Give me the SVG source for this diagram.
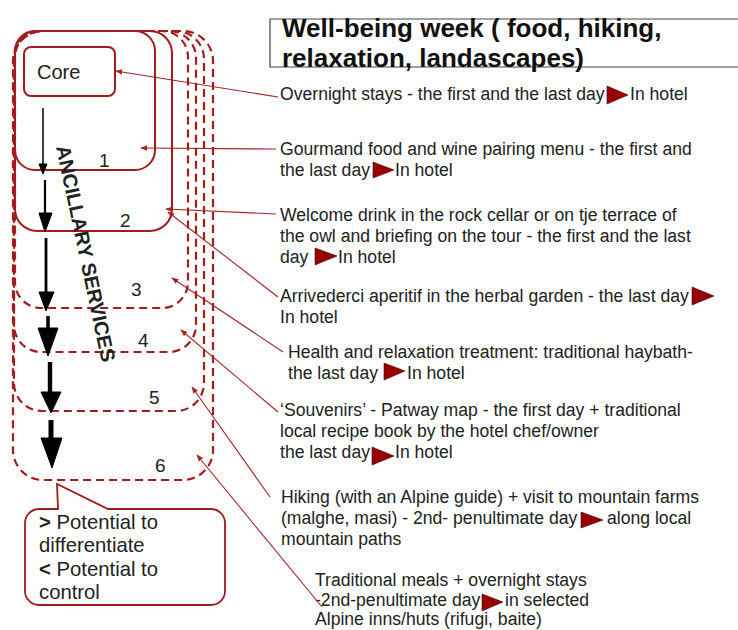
<svg xmlns="http://www.w3.org/2000/svg" width="738" height="630" viewBox="0 0 738 630">
  <defs>
    <style>
      text { font-family: "Liberation Sans", Arial, sans-serif; fill: #222; }
      .solid { fill: none; stroke: #a31c1c; stroke-width: 2; }
      .dash { fill: none; stroke: #a31c1c; stroke-width: 2.2; stroke-dasharray: 8 5; }
      .num { font-size: 19px; }
      .item { font-size: 17.6px; }
      .title { font-size: 26px; font-weight: bold; fill: #111; }
      .tri { fill: #990000; stroke: #3a0a0a; stroke-width: 0.6; }
      .conn { stroke: #a52525; stroke-width: 1.1; fill: none; marker-end: url(#head); }
      .flow { fill: #000; stroke: #000; }
    </style>
    <marker id="head" viewBox="0 0 10 10" refX="9" refY="5" markerWidth="7" markerHeight="7" orient="auto" markerUnits="userSpaceOnUse">
      <path d="M0,1 L10,5 L0,9 Z" fill="#a52525"/>
    </marker>
  </defs>

  <rect width="738" height="630" fill="#fff"/>

  <!-- nested service layers, outermost first -->
  <g id="layer-6">
    <rect class="dash" x="13" y="31" width="200" height="449" rx="30"/>
    <text class="num" x="155" y="472">6</text>
  </g>
  <g id="layer-5">
    <rect class="dash" x="14" y="31" width="190" height="380" rx="28"/>
    <text class="num" x="149" y="404">5</text>
  </g>
  <g id="layer-4">
    <rect class="dash" x="14" y="31" width="182" height="321" rx="27"/>
    <text class="num" x="138" y="347">4</text>
  </g>
  <g id="layer-3">
    <rect class="dash" x="15" y="31" width="173" height="277" rx="26"/>
    <text class="num" x="131" y="296">3</text>
  </g>
  <g id="layer-2">
    <rect class="solid" x="15" y="31" width="157" height="200" rx="22"/>
    <text class="num" x="120" y="227">2</text>
  </g>
  <g id="layer-1">
    <rect class="solid" x="15" y="31" width="140" height="139" rx="20"/>
    <text class="num" x="99" y="167">1</text>
  </g>
  <g id="core">
    <rect class="solid" x="24" y="47" width="91" height="49" rx="7"/>
    <text x="37" y="79" font-size="20">Core</text>
  </g>

  <!-- flow arrows, growing heavier outward -->
  <g id="flow-arrows" class="flow">
    <line x1="43" y1="108" x2="43" y2="166" stroke-width="1.5"/>
    <polygon points="39,164 47,164 43,174"/>
    <line x1="45" y1="180" x2="45" y2="216" stroke-width="2.2"/>
    <polygon points="39,213 52,213 45,232"/>
    <line x1="46" y1="238" x2="46" y2="294" stroke-width="2.8"/>
    <polygon points="39,292 54,292 46,311"/>
    <line x1="48" y1="316" x2="48" y2="331" stroke-width="3.6"/>
    <polygon points="38,328 58,328 48,356"/>
    <line x1="50" y1="362" x2="50" y2="394" stroke-width="4.4"/>
    <polygon points="41,392 61,392 51,413"/>
    <line x1="51" y1="420" x2="51" y2="440" stroke-width="5"/>
    <polygon points="41,438 62,438 52,468"/>
  </g>

  <g id="ancillary-label">
    <text x="56" y="147" font-size="20" font-weight="bold" fill="#111" transform="rotate(78 56 147)">ANCILLARY SERVICES</text>
  </g>

  <!-- callout -->
  <g id="potential-note">
    <path d="M39,509 H58 L57,484 L108,509 H211 A14,14 0 0 1 225,523 V591 A14,14 0 0 1 211,605 H39 A14,14 0 0 1 25,591 V523 A14,14 0 0 1 39,509 Z" fill="#fff" stroke="#a31c1c" stroke-width="1.8"/>
    <text font-size="20.3">
      <tspan x="39" y="529"><tspan font-weight="bold">&gt;</tspan> Potential to</tspan>
      <tspan x="39" y="552">differentiate</tspan>
      <tspan x="39" y="576"><tspan font-weight="bold">&lt;</tspan> Potential to</tspan>
      <tspan x="39" y="599">control</tspan>
    </text>
  </g>

  <!-- title -->
  <g id="title">
    <path d="M738,19 H270 V67 H738" fill="none" stroke="#444" stroke-width="1.2"/>
    <text class="title">
      <tspan x="282" y="37">Well-being week ( food, hiking,</tspan>
      <tspan x="282" y="67">relaxation, landascapes)</tspan>
    </text>
  </g>

  <!-- offer items -->
  <g id="item-overnight">
    <text class="item" x="280" y="100">Overnight stays - the first and the last day</text>
    <polygon class="tri" points="607,86 628,95 607,104"/>
    <text class="item" x="630" y="100">In hotel</text>
  </g>
  <g id="item-gourmand">
    <text class="item"><tspan x="280" y="155">Gourmand food and wine pairing menu - the first and</tspan><tspan x="280" y="176">the last day</tspan></text>
    <polygon class="tri" points="373,162 394,170 373,178"/>
    <text class="item" x="395" y="176">In hotel</text>
  </g>
  <g id="item-welcome">
    <text class="item"><tspan x="280" y="221">Welcome drink in the rock cellar or on tje terrace of</tspan><tspan x="280" y="242">the owl and briefing on the tour - the first and the last</tspan><tspan x="280" y="263">day</tspan></text>
    <polygon class="tri" points="315,248 337,256 315,265"/>
    <text class="item" x="338" y="263">In hotel</text>
  </g>
  <g id="item-arrivederci">
    <text class="item"><tspan x="280" y="302">Arrivederci aperitif in the herbal garden - the last day</tspan><tspan x="280" y="323">In hotel</tspan></text>
    <polygon class="tri" points="692,287 714,296 692,305"/>
  </g>
  <g id="item-health">
    <text class="item"><tspan x="288" y="358">Health and relaxation treatment: traditional haybath-</tspan><tspan x="288" y="379">the last day</tspan></text>
    <polygon class="tri" points="384,363 405,371 384,380"/>
    <text class="item" x="407" y="379">In hotel</text>
  </g>
  <g id="item-souvenirs">
    <text class="item"><tspan x="280" y="416">‘Souvenirs’ - Patway map - the first day + traditional</tspan><tspan x="280" y="437">local recipe book by the hotel chef/owner</tspan><tspan x="280" y="458">the last day</tspan></text>
    <polygon class="tri" points="372,447 394,456 372,465"/>
    <text class="item" x="395" y="458">In hotel</text>
  </g>
  <g id="item-hiking">
    <text class="item"><tspan x="281" y="503">Hiking (with an Alpine guide) + visit to mountain farms</tspan><tspan x="281" y="524">(malghe, masi) - 2nd- penultimate day</tspan><tspan x="281" y="545">mountain paths</tspan></text>
    <polygon class="tri" points="581,512 603,520 581,528"/>
    <text class="item" x="607" y="524">along local</text>
  </g>
  <g id="item-meals">
    <text class="item"><tspan x="315" y="586">Traditional meals + overnight stays</tspan><tspan x="315" y="606">-2nd-penultimate day</tspan><tspan x="315" y="625">Alpine inns/huts (rifugi, baite)</tspan></text>
    <polygon class="tri" points="482,594 503,602 482,611"/>
    <text class="item" x="505" y="606">in selected</text>
  </g>

  <!-- connectors from items to layers -->
  <g id="connectors">
    <line class="conn" x1="278" y1="97" x2="116" y2="71"/>
    <line class="conn" x1="276" y1="149" x2="141" y2="148"/>
    <line class="conn" x1="276" y1="214" x2="166" y2="209"/>
    <line class="conn" x1="278" y1="297" x2="168" y2="212"/>
    <line class="conn" x1="283" y1="352" x2="172" y2="278"/>
    <line class="conn" x1="278" y1="412" x2="181" y2="330"/>
    <line class="conn" x1="270" y1="497" x2="192" y2="387"/>
    <line class="conn" x1="322" y1="607" x2="197" y2="455"/>
  </g>
</svg>
